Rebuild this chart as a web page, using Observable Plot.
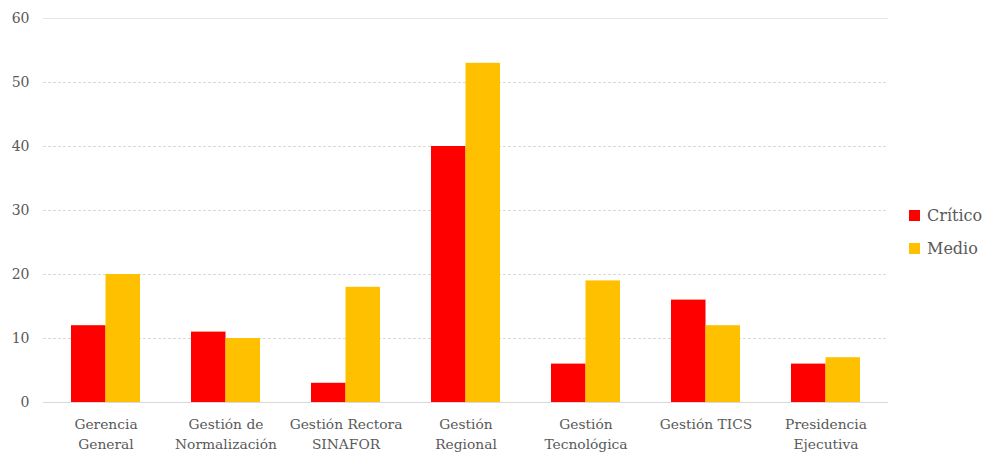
<!DOCTYPE html>
<html>
<head>
<meta charset="utf-8">
<script src="https://cdn.jsdelivr.net/npm/d3@7"></script>
<script src="https://cdn.jsdelivr.net/npm/@observablehq/plot@0.6"></script>
<style>
  html, body { margin: 0; padding: 0; background: #fff; }
  #chart { position: relative; width: 992px; height: 456px; }
  #legend { position: absolute; left: 909px; top: 199px; font-family: "DejaVu Serif", serif; font-size: 16px; color: #595959; }
  #legend div { display: flex; align-items: center; height: 33px; }
  #legend span.sw { display: inline-block; width: 11px; height: 11px; margin-right: 7px; }
</style>
</head>
<body>
<div id="chart"></div>
<script>
// Áreas evaluadas y número de casos por nivel
const categories = [
  "Gerencia\nGeneral",
  "Gestión de\nNormalización",
  "Gestión Rectora\nSINAFOR",
  "Gestión\nRegional",
  "Gestión\nTecnológica",
  "Gestión TICS",
  "Presidencia\nEjecutiva"
];
const series = ["Crítico", "Medio"];
const critico = [12, 11, 3, 40, 6, 16, 6];
const medio = [20, 10, 18, 53, 19, 12, 7];
const colors = ["#ff0000", "#ffc000"];
const yTicks = [0, 10, 20, 30, 40, 50, 60];

const rowsCritico = categories.map((c, i) => ({area: c, nivel: series[0], valor: critico[i]}));
const rowsMedio = categories.map((c, i) => ({area: c, nivel: series[1], valor: medio[i]}));

// each category band holds the two bars side by side
const half = 34.5;

const chart = Plot.plot({
  width: 992,
  height: 456,
  marginLeft: 45,
  marginRight: 107,
  marginTop: 18,
  marginBottom: 54,
  style: {fontFamily: "'DejaVu Serif', serif", fontSize: "14px", color: "#595959", background: "#fff"},
  x: {domain: categories, paddingInner: 0.425, paddingOuter: 0.2125, label: null},
  y: {domain: [0, 60], label: null},
  color: {domain: series, range: colors},
  marks: [
    Plot.ruleY(yTicks.filter(d => d > 0 && d < 60), {stroke: "#d9d9d9", strokeDasharray: "3,2", insetLeft: -2, insetRight: -3}),
    Plot.ruleY([60], {stroke: "#e6e6e6", insetLeft: -2, insetRight: -3}),
    Plot.axisY(yTicks, {tickSize: 0, tickPadding: 16, fill: "#595959", fontSize: 14, label: null}),
    Plot.axisX({tickSize: 0, tickPadding: 13, fill: "#595959", fontSize: 13.8, lineHeight: 1.42, label: null}),
    Plot.barY(rowsCritico, {x: "area", y: "valor", fill: "nivel", insetRight: half}),
    Plot.barY(rowsMedio, {x: "area", y: "valor", fill: "nivel", insetLeft: half}),
    Plot.ruleY([0], {stroke: "#d9d9d9", insetLeft: -2, insetRight: -3})
  ]
});

document.getElementById("chart").appendChild(chart);

const legend = document.createElement("div");
legend.id = "legend";
series.forEach((s, i) => {
  const row = document.createElement("div");
  const sw = document.createElement("span");
  sw.className = "sw";
  sw.style.background = colors[i];
  row.appendChild(sw);
  row.appendChild(document.createTextNode(s));
  legend.appendChild(row);
});
document.getElementById("chart").appendChild(legend);
</script>
</body>
</html>
